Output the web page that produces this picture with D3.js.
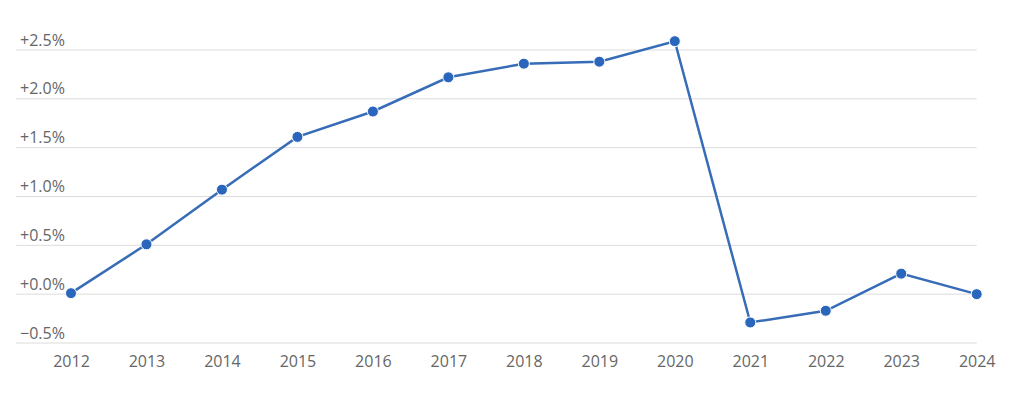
<!DOCTYPE html>
<html lang="en">
<head>
    <meta charset="UTF-8">
    <title>Annual change</title>
    <script src="https://d3js.org/d3.v7.min.js"></script>
    <style>
        body { margin: 0; background: #fff; }
        .tick text { font-family: "Open Sans", sans-serif; font-size: 16px; fill: #666; }
        .grid line { stroke: #dcdcdc; stroke-width: 1; }
        .domain { display: none; }
    </style>
</head>
<body>
<svg width="1024" height="394"></svg>
<script>
    // chart data
    const years = ["2012", "2013", "2014", "2015", "2016", "2017", "2018", "2019", "2020", "2021", "2022", "2023", "2024"];
    const changes = [0.00, 0.50, 1.06, 1.60, 1.86, 2.21, 2.35, 2.37, 2.58, -0.30, -0.18, 0.20, -0.01];
    const yTicks = [-0.5, 0, 0.5, 1.0, 1.5, 2.0, 2.5];

    const svg = d3.select("svg");

    const x = d3.scalePoint()
        .domain(years)
        .range([71, 976.7]);

    const y = d3.scaleLinear()
        .domain([-0.5, 2.5])
        .range([342, 49]);

    const fmt = v => (v < 0 ? "\u22120.5%" : "+" + d3.format(".1f")(v) + "%");

    // horizontal grid with labels sitting above each line
    const grid = svg.append("g")
        .attr("class", "grid")
        .call(d3.axisLeft(y).tickValues(yTicks).tickSize(0).tickFormat(fmt));
    grid.selectAll(".tick line")
        .attr("x1", 16)
        .attr("x2", 976.7)
        .attr("y1", 0.5).attr("y2", 0.5);
    grid.selectAll(".tick text")
        .attr("x", 20)
        .attr("dy", "-4")
        .attr("text-anchor", "start");

    // x axis labels
    svg.append("g")
        .attr("transform", "translate(0,342)")
        .call(d3.axisBottom(x).tickSize(0).tickPadding(14))
        .selectAll(".tick text")
        .attr("dy", "0.71em");

    const line = d3.line()
        .x((d, i) => x(years[i]))
        .y(d => y(d));

    svg.append("path")
        .datum(changes)
        .attr("fill", "none")
        .attr("stroke", "#376cb7")
        .attr("stroke-width", 2.5)
        .attr("d", line);

    svg.selectAll(".dot")
        .data(changes)
        .enter().append("circle")
        .attr("class", "dot")
        .attr("cx", (d, i) => x(years[i]))
        .attr("cy", d => y(d))
        .attr("r", 5.5)
        .attr("fill", "#2b66bd")
        .attr("stroke", "#fff")
        .attr("stroke-width", 1);
</script>
</body>
</html>
